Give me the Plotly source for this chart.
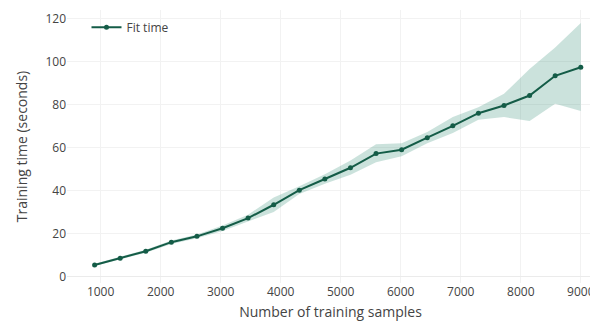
import plotly.graph_objects as go

train_sizes = [900, 1326, 1752, 2178, 2605, 3031, 3457, 3884, 4310, 4736,
               5163, 5589, 6015, 6442, 6868, 7294, 7721, 8147, 8573, 9000]
fit_time = [5.4, 8.5, 11.8, 16.0, 18.7, 22.5, 27.2, 33.4, 40.2, 45.4,
            50.6, 57.2, 59.0, 64.6, 70.1, 76.0, 79.6, 84.2, 93.4, 97.4]
fit_upper = [5.9, 9.1, 12.5, 16.8, 19.6, 23.8, 28.8, 36.8, 42.0, 47.6,
             54.0, 61.5, 62.0, 67.2, 74.2, 78.8, 85.0, 96.6, 106.5, 118.0]
fit_lower = [4.9, 7.9, 11.1, 15.2, 17.8, 21.2, 25.6, 30.0, 38.4, 43.2,
             47.4, 53.2, 56.0, 62.0, 66.8, 73.0, 74.2, 72.4, 80.4, 77.0]

line_color = "#145c47"
fill_color = "rgba(30,130,105,0.23)"

fig = go.Figure()
fig.add_trace(go.Scatter(x=train_sizes, y=fit_upper, mode="lines",
                         line=dict(width=0), showlegend=False, hoverinfo="skip"))
fig.add_trace(go.Scatter(x=train_sizes, y=fit_lower, mode="lines",
                         line=dict(width=0), fill="tonexty", fillcolor=fill_color,
                         showlegend=False, hoverinfo="skip"))
fig.add_trace(go.Scatter(x=train_sizes, y=fit_time, mode="lines+markers",
                         name="Fit time",
                         line=dict(color=line_color, width=2),
                         marker=dict(color=line_color, size=5)))

fig.update_layout(
    width=590, height=313,
    template="plotly_white",
    margin=dict(l=59, r=4, t=2, b=38),
    font=dict(family="Open Sans", size=12, color="#444"),
    legend=dict(x=0.037, y=0.99, xanchor="left", yanchor="top",
                bgcolor="rgba(0,0,0,0)", font=dict(size=12)),
    xaxis=dict(title=dict(text="Number of training samples", font=dict(size=14), standoff=9),
               range=[440, 9220], tickvals=[1000, 2000, 3000, 4000, 5000, 6000, 7000, 8000, 9000],
               gridcolor="#f2f2f2", zeroline=False, showline=False, ticks=""),
    yaxis=dict(title=dict(text="Training time (seconds)", font=dict(size=14), standoff=14),
               range=[-3, 124], tickvals=[0, 20, 40, 60, 80, 100, 120],
               gridcolor="#f2f2f2", zeroline=True, zerolinecolor="#ebebeb", zerolinewidth=1),
)

fig.write_html("out.html")
